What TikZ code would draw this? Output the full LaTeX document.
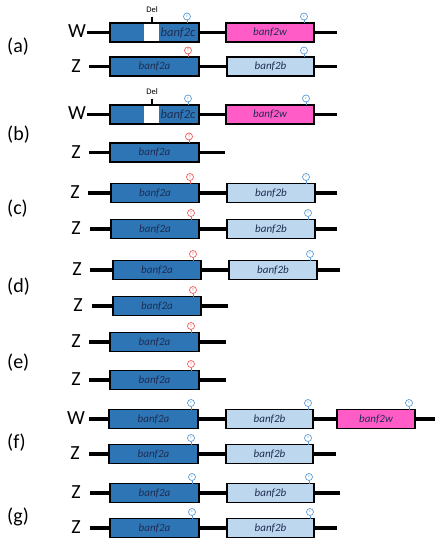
\documentclass[tikz,border=0pt]{standalone}
\usepackage{fontspec}
\setmainfont{Carlito}
\definecolor{gdark}{HTML}{2E75B6}
\definecolor{glight}{HTML}{BDD7EE}
\definecolor{gpink}{HTML}{FF5CC8}
\definecolor{mblue}{HTML}{5B9BD5}
\definecolor{mred}{HTML}{F05A5A}
\definecolor{gtext}{HTML}{1F2D50}
\tikzset{
 gtxt/.style={inner sep=0pt, font=\fontsize{11}{12}\selectfont\itshape, text=gtext},
 gene/.style={gtxt, draw=black, line width=1.6pt, outer sep=0pt, minimum height=19pt},
 gd/.style={gene, fill=gdark},
 gl/.style={gene, fill=glight},
 gp/.style={gene, fill=gpink},
 chr/.style={line width=3.4pt},
 chrname/.style={font=\fontsize{20}{22}\selectfont, inner sep=0pt},
 panel/.style={font=\fontsize{20}{22}\selectfont, inner sep=0pt, anchor=west},
 snp/.style={circle, draw, line width=0.7pt, minimum size=7pt, inner sep=0pt, font=\fontsize{4}{4}\selectfont},
 deltxt/.style={inner sep=0pt, font=\fontsize{8.5}{9}\selectfont},
}
% gene box: name, style, x1, x2, y, label
\newcommand\gbox[6]{\node[#2, minimum width={#4-#3}] (#1) at ({(#3+#4)/2},#5) {#6};}
% marker: name, colour, letter, x, box
\newcommand\gmark[5]{\coordinate (#1b) at (#4,0 |- #5.north);
 \node[snp, draw=#2, text=#2] (#1) at ([yshift=6.5pt]#1b) {#3};
 \draw[#2, line width=0.7pt] (#1.south) -- (#1b);}
\begin{document}
\begin{tikzpicture}[x=1pt,y=-1pt]
\useasboundingbox (0,0) rectangle (446,550);
% panel labels
\node[panel] (pa) at (7,47) {(a)};
\node[panel] (pb) at (7,135) {(b)};
\node[panel] (pc) at (7,209) {(c)};
\node[panel] (pd) at (7,287) {(d)};
\node[panel] (pe) at (7,363) {(e)};
\node[panel] (pf) at (7,443) {(f)};
\node[panel] (pg) at (7,517) {(g)};

% ---------- row 1 (a) W
\node[chrname] (L1) at (77,31.5) {W};
\coordinate (s1) at (87,32.5); \coordinate (e1) at (337,32.5);
\gbox{b1a}{gd}{110}{199}{32.5}{}
\gbox{b1b}{gp}{226}{314}{32.5}{banf2w}
\draw[chr] (s1) -- (b1a.west) (b1a.east) -- (b1b.west) (b1b.east) -- (e1);
\fill[white] (144,23.8) rectangle (159,41.2);
\draw[line width=1.6pt] (b1a.north west) rectangle (b1a.south east);
\node[gtxt, font=\fontsize{12.5}{13}\selectfont\itshape] (t1) at (178,32.5) {banf2c};
\node[deltxt] (d1) at (152,10) {Del};
\coordinate (dt1) at (152,16.5);
\draw[line width=1.3pt] (dt1) -- (dt1 |- b1a.north);
\gmark{m1a}{mblue}{c}{187}{b1a}
\gmark{m1b}{mblue}{c}{304}{b1b}

% ---------- row 2 (a) Z
\node[chrname] (L2) at (76,66) {Z};
\coordinate (s2) at (89,66.5); \coordinate (e2) at (337,66.5);
\gbox{b2a}{gd}{110}{199}{66.5}{banf2a}
\gbox{b2b}{gl}{227}{314}{66.5}{banf2b}
\draw[chr] (s2) -- (b2a.west) (b2a.east) -- (b2b.west) (b2b.east) -- (e2);
\gmark{m2a}{mred}{T}{188}{b2a}
\gmark{m2b}{mblue}{c}{304}{b2b}

% ---------- row 3 (b) W
\node[chrname] (L3) at (77,113.5) {W};
\coordinate (s3) at (87,114.5); \coordinate (e3) at (337,114.5);
\gbox{b3a}{gd}{110}{199}{114.5}{}
\gbox{b3b}{gp}{226}{314}{114.5}{banf2w}
\draw[chr] (s3) -- (b3a.west) (b3a.east) -- (b3b.west) (b3b.east) -- (e3);
\fill[white] (144,105.8) rectangle (159,123.2);
\draw[line width=1.6pt] (b3a.north west) rectangle (b3a.south east);
\node[gtxt, font=\fontsize{12.5}{13}\selectfont\itshape] (t3) at (178,114.5) {banf2c};
\node[deltxt] (d3) at (152,92) {Del};
\coordinate (dt3) at (152,98.5);
\draw[line width=1.3pt] (dt3) -- (dt3 |- b3a.north);
\gmark{m3a}{mblue}{c}{188}{b3a}
\gmark{m3b}{mblue}{c}{306}{b3b}

% ---------- row 4 (b) Z
\node[chrname] (L4) at (76,152) {Z};
\coordinate (s4) at (89,152.5); \coordinate (e4) at (225,152.5);
\gbox{b4a}{gd}{110}{199}{152.5}{banf2a}
\draw[chr] (s4) -- (b4a.west) (b4a.east) -- (e4);
\gmark{m4a}{mred}{T}{189}{b4a}

% ---------- row 5 (c) Z
\node[chrname] (L5) at (75,192.5) {Z};
\coordinate (s5) at (88,193); \coordinate (e5) at (337,193);
\gbox{b5a}{gd}{111}{199}{193}{banf2a}
\gbox{b5b}{gl}{227}{315}{193}{banf2b}
\draw[chr] (s5) -- (b5a.west) (b5a.east) -- (b5b.west) (b5b.east) -- (e5);
\gmark{m5a}{mred}{T}{190}{b5a}
\gmark{m5b}{mblue}{c}{306}{b5b}

% ---------- row 6 (c) Z
\node[chrname] (L6) at (76,228.5) {Z};
\coordinate (s6) at (90,229); \coordinate (e6) at (337,229);
\gbox{b6a}{gd}{111}{199}{229}{banf2a}
\gbox{b6b}{gl}{227}{315}{229}{banf2b}
\draw[chr] (s6) -- (b6a.west) (b6a.east) -- (b6b.west) (b6b.east) -- (e6);
\gmark{m6a}{mred}{T}{191}{b6a}
\gmark{m6b}{mblue}{c}{308}{b6b}

% ---------- row 7 (d) Z
\node[chrname] (L7) at (77,269.5) {Z};
\coordinate (s7) at (90,270); \coordinate (e7) at (340,270);
\gbox{b7a}{gd}{113}{201}{270}{banf2a}
\gbox{b7b}{gl}{229}{317}{270}{banf2b}
\draw[chr] (s7) -- (b7a.west) (b7a.east) -- (b7b.west) (b7b.east) -- (e7);
\gmark{m7a}{mred}{T}{193}{b7a}
\gmark{m7b}{mblue}{c}{310}{b7b}

% ---------- row 8 (d) Z
\node[chrname] (L8) at (78,305.5) {Z};
\coordinate (s8) at (92,306); \coordinate (e8) at (228,306);
\gbox{b8a}{gd}{113}{201}{306}{banf2a}
\draw[chr] (s8) -- (b8a.west) (b8a.east) -- (e8);
\gmark{m8a}{mred}{T}{193}{b8a}

% ---------- row 9 (e) Z
\node[chrname] (L9) at (76,341.5) {Z};
\coordinate (s9) at (89,342); \coordinate (e9) at (226,342);
\gbox{b9a}{gd}{110}{199}{342}{banf2a}
\draw[chr] (s9) -- (b9a.west) (b9a.east) -- (e9);
\gmark{m9a}{mred}{T}{191}{b9a}

% ---------- row 10 (e) Z
\node[chrname] (L10) at (76,379.5) {Z};
\coordinate (s10) at (89,380); \coordinate (e10) at (226,380);
\gbox{b10a}{gd}{110}{199}{380}{banf2a}
\draw[chr] (s10) -- (b10a.west) (b10a.east) -- (e10);
\gmark{m10a}{mred}{T}{191}{b10a}

% ---------- row 11 (f) W
\node[chrname] (L11) at (76,418) {W};
\coordinate (s11) at (89,419); \coordinate (e11) at (435,419);
\gbox{b11a}{gd}{109}{198}{419}{banf2a}
\gbox{b11b}{gl}{226}{313}{419}{banf2b}
\gbox{b11c}{gp}{337}{415}{419}{banf2w}
\draw[chr] (s11) -- (b11a.west) (b11a.east) -- (b11b.west) (b11b.east) -- (b11c.west) (b11c.east) -- (e11);
\gmark{m11a}{mblue}{c}{191}{b11a}
\gmark{m11b}{mblue}{c}{308}{b11b}
\gmark{m11c}{mblue}{c}{409}{b11c}

% ---------- row 12 (f) Z
\node[chrname] (L12) at (75,453.5) {Z};
\coordinate (s12) at (89,454); \coordinate (e12) at (336,454);
\gbox{b12a}{gd}{109}{198}{454}{banf2a}
\gbox{b12b}{gl}{226}{313}{454}{banf2b}
\draw[chr] (s12) -- (b12a.west) (b12a.east) -- (b12b.west) (b12b.east) -- (e12);
\gmark{m12a}{mblue}{c}{191}{b12a}
\gmark{m12b}{mblue}{c}{308}{b12b}

% ---------- row 13 (g) Z
\node[chrname] (L13) at (76,492.5) {Z};
\coordinate (s13) at (90,493); \coordinate (e13) at (340,493);
\gbox{b13a}{gd}{110}{199}{493}{banf2a}
\gbox{b13b}{gl}{227}{314}{493}{banf2b}
\draw[chr] (s13) -- (b13a.west) (b13a.east) -- (b13b.west) (b13b.east) -- (e13);
\gmark{m13a}{mblue}{c}{192}{b13a}
\gmark{m13b}{mblue}{c}{309}{b13b}

% ---------- row 14 (g) Z
\node[chrname] (L14) at (76,527.5) {Z};
\coordinate (s14) at (90,528); \coordinate (e14) at (337,528);
\gbox{b14a}{gd}{110}{199}{528}{banf2a}
\gbox{b14b}{gl}{227}{314}{528}{banf2b}
\draw[chr] (s14) -- (b14a.west) (b14a.east) -- (b14b.west) (b14b.east) -- (e14);
\gmark{m14a}{mblue}{c}{192}{b14a}
\gmark{m14b}{mblue}{c}{310}{b14b}
\end{tikzpicture}
\end{document}
